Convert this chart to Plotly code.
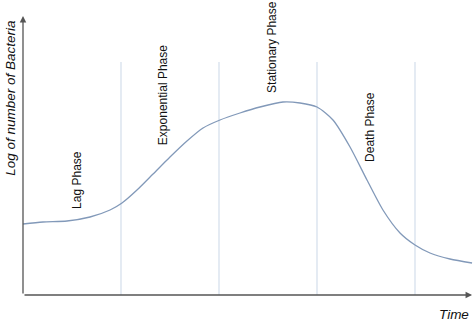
import plotly.graph_objects as go

# Growth curve (time units; log count in arbitrary units)
time = [0.0, 0.204, 0.449, 0.684, 0.888, 1.01, 1.163, 1.327, 1.5, 1.673, 1.837, 2.01,
        2.214, 2.418, 2.653, 2.827, 3.0, 3.163, 3.337, 3.51, 3.673, 3.847, 4.0,
        4.153, 4.357, 4.582]
log_count = [71, 73, 74, 78, 85, 92, 105, 121, 138, 154, 167, 175,
             182, 188, 193, 192, 188, 175, 148, 115, 85, 62, 50,
             42, 36, 32]

phase_bounds = [1, 2, 3, 4]
phase_labels = ["Lag Phase", "Exponential Phase", "Stationary Phase", "Death Phase"]
label_t = [0.55, 1.43, 2.54, 3.54]
label_v = [115, 200, 248, 168]

x_max = 4.582
y_max = 279
bound_top = 233

fig = go.Figure()

# phase boundary lines
for b in phase_bounds:
    fig.add_shape(type="line", x0=b, x1=b, y0=0, y1=bound_top, xref="x", yref="y",
                  line=dict(color="#d3deeb", width=1.2), layer="below")

fig.add_trace(go.Scatter(x=time, y=log_count, mode="lines",
                         line=dict(color="#8299b9", width=1.3, shape="spline", smoothing=0.7),
                         hoverinfo="skip", showlegend=False))

# axes with arrows
fig.add_annotation(x=x_max, y=0, ax=0, ay=0, xref="x", yref="y", axref="x", ayref="y",
                   showarrow=True, arrowhead=2, arrowsize=1, arrowwidth=1.3,
                   arrowcolor="#555555", text="")
fig.add_annotation(x=0, y=y_max, ax=0, ay=0, xref="x", yref="y", axref="x", ayref="y",
                   showarrow=True, arrowhead=2, arrowsize=1, arrowwidth=1.3,
                   arrowcolor="#555555", text="")

for lab, t, v in zip(phase_labels, label_t, label_v):
    fig.add_annotation(x=t, y=v, xref="x", yref="y", text=lab, showarrow=False,
                       textangle=-90, font=dict(family="Liberation Sans, Arial", size=12, color="#111111"))

fig.add_annotation(x=-0.135, y=197, xref="x", yref="y", text="<i>Log of number of Bacteria</i>",
                   showarrow=False, textangle=-90,
                   font=dict(family="Liberation Sans, Arial", size=13.5, color="#111111"))
fig.add_annotation(x=4.57, y=-19, xref="x", yref="y", text="<i>Time</i>", showarrow=False,
                   xanchor="right",
                   font=dict(family="Liberation Sans, Arial", size=13.5, color="#111111"))

fig.update_layout(
    width=474, height=322,
    margin=dict(l=0, r=0, t=0, b=0),
    paper_bgcolor="white", plot_bgcolor="white",
    xaxis=dict(range=[-0.2347, 4.602], visible=False, fixedrange=True),
    yaxis=dict(range=[-27, 295], visible=False, fixedrange=True),
    showlegend=False,
)

fig.write_html("out.html")
